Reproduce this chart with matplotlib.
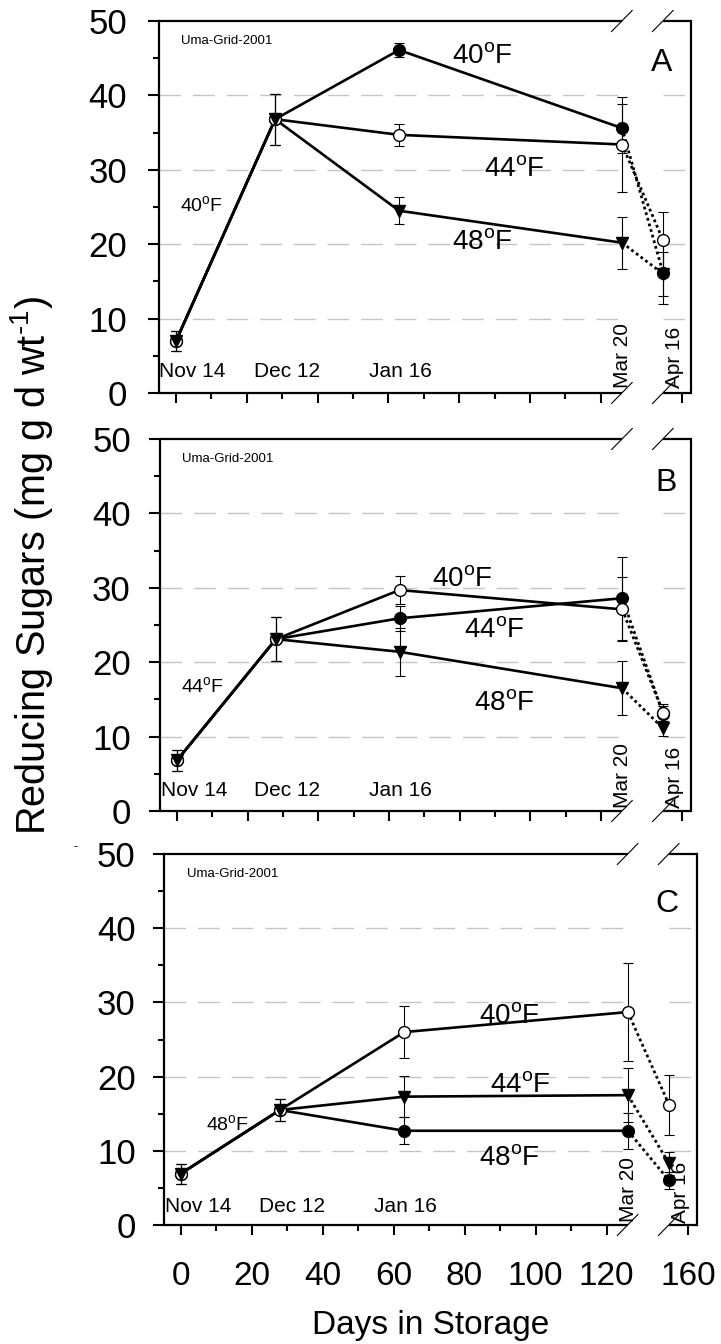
import numpy as np
import matplotlib
matplotlib.use("Agg")
import matplotlib.pyplot as plt
from matplotlib.scale import FuncScale

plt.rcParams['font.family'] = ['Liberation Sans', 'DejaVu Sans']
plt.rcParams['mathtext.fontset'] = 'custom'
plt.rcParams['mathtext.rm'] = 'Liberation Sans'
plt.rcParams['mathtext.it'] = 'Liberation Sans:italic'
plt.rcParams['mathtext.bf'] = 'Liberation Sans:bold'

# ---------------- data ----------------
days = [0, 28, 63, 126, 153]
date_labels = ["Nov 14", "Dec 12", "Jan 16", "Mar 20", "Apr 16"]

A_filled = [7.0, 36.8, 46.1, 35.6, 16.1]
A_filled_err = [1.3, 3.4, 1.0, 3.3, 4.1]
A_open = [7.0, 36.8, 34.7, 33.4, 20.5]
A_open_err = [1.3, 3.4, 1.5, 6.4, 3.8]
A_tri = [7.0, 36.8, 24.5, 20.2, 16.0]
A_tri_err = [1.3, 3.4, 1.8, 3.5, 2.9]

B_filled = [6.8, 23.1, 25.9, 28.6, 13.1]
B_filled_err = [1.4, 3.0, 1.7, 5.6, 1.0]
B_open = [6.8, 23.1, 29.7, 27.1, 13.2]
B_open_err = [1.4, 3.0, 1.9, 4.3, 1.2]
B_tri = [6.8, 23.1, 21.4, 16.5, 11.1]
B_tri_err = [1.4, 3.0, 3.2, 3.6, 1.0]

C_filled = [6.9, 15.5, 12.7, 12.7, 6.0]
C_filled_err = [1.35, 1.45, 1.8, 2.4, 1.1]
C_open = [6.9, 15.5, 26.0, 28.7, 16.2]
C_open_err = [1.35, 1.45, 3.5, 6.6, 4.05]
C_tri = [6.9, 15.5, 17.3, 17.5, 8.3]
C_tri_err = [1.35, 1.45, 2.75, 3.6, 1.5]

x_major = [0, 20, 40, 60, 80, 100, 120, 160]
x_minor = [10, 30, 50, 70, 90, 110]
y_major = [0, 10, 20, 30, 40, 50]
y_minor = [5, 15, 25, 35, 45]
grid_vals = [10, 20, 30, 40]

panel_letters = ["A", "B", "C"]
init_temps = ["40$^{\\rm o}$F", "44$^{\\rm o}$F", "48$^{\\rm o}$F"]
temp_labels = ["40$^{\\rm o}$F", "44$^{\\rm o}$F", "48$^{\\rm o}$F"]

# ---------------- broken x scale ----------------
B1, B2, G, K = 126.0, 153.0, 11.6, 0.757


def fwd(x):
    x = np.asarray(x, dtype=float)
    return np.where(x <= B1, x,
                    np.where(x >= B2, B1 + G + (x - B2) * K,
                             B1 + (x - B1) * G / (B2 - B1)))


def inv(u):
    u = np.asarray(u, dtype=float)
    return np.where(u <= B1, u,
                    np.where(u >= B1 + G, B2 + (u - B1 - G) / K,
                             B1 + (u - B1) * (B2 - B1) / G))


W, H = 721, 1344
fig = plt.figure(figsize=(W / 100, H / 100), dpi=100)


def ftext(x, y, s, **kw):
    fig.text(x / W, 1 - y / H, s, **kw)


rects = [(159, 21, 532, 372), (160, 439, 531, 372), (163.5, 854, 533.5, 371)]
ypads = [15, 13, 12]
series_sets = [
    [(A_filled, A_filled_err), (A_open, A_open_err), (A_tri, A_tri_err)],
    [(B_filled, B_filled_err), (B_open, B_open_err), (B_tri, B_tri_err)],
    [(C_filled, C_filled_err), (C_open, C_open_err), (C_tri, C_tri_err)],
]
styles = [dict(marker='o', mfc='black'), dict(marker='o', mfc='white'),
          dict(marker='v', mfc='black')]

bl, br = 0.870, 0.947  # break positions (axes fraction)

axes = []
for i, (l, t, w, h) in enumerate(rects):
    ax = fig.add_axes([l / W, 1 - (t + h) / H, w / W, h / H])
    axes.append(ax)
    ax.set_xscale(FuncScale(ax, (fwd, inv)))
    ax.set_xlim(-4.8, 163.4)
    ax.set_ylim(0, 50)
    ax.set_xticks(x_major)
    ax.set_xticks(x_minor, minor=True)
    ax.set_yticks(y_major)
    ax.set_yticks(y_minor, minor=True)
    ax.set_xticklabels([str(v) for v in x_major])
    ax.tick_params(axis='y', which='major', direction='out', length=8, width=1.5,
                   labelsize=25, pad=ypads[i])
    ax.tick_params(axis='y', which='minor', direction='out', length=4.3, width=1.5)
    ax.tick_params(axis='x', which='major', direction='out', length=7.2, width=1.5,
                   labelsize=24, pad=19, labelbottom=(i == 2))
    ax.tick_params(axis='x', which='minor', direction='out', length=4.3, width=1.5)
    for s in ['top', 'bottom']:
        ax.spines[s].set_visible(False)
    for s in ['left', 'right']:
        ax.spines[s].set_linewidth(1.6)

    # grid lines with break gap
    for g in grid_vals:
        ax.axhline(g, 0, bl - 0.008, color='#c4c4c4', lw=1, dashes=(15.6, 8.6), zorder=1)
        ax.axhline(g, br, 1, color='#c4c4c4', lw=1, dashes=(15.6, 8.6), zorder=1)

    # broken top / bottom spines
    for yb in (0, 1):
        ax.plot([0, bl], [yb, yb], transform=ax.transAxes, color='black', lw=1.6,
                clip_on=False, solid_capstyle='butt', zorder=5)
        ax.plot([br, 1], [yb, yb], transform=ax.transAxes, color='black', lw=1.6,
                clip_on=False, solid_capstyle='butt', zorder=5)
        dx, dy = 10.3 / w, 10.5 / h
        for xb in (bl, br):
            ax.plot([xb - dx, xb + dx], [yb - dy, yb + dy], transform=ax.transAxes,
                    color='black', lw=0.8, clip_on=False, zorder=5)

    for (vals, err), st in zip(series_sets[i], styles):
        ax.errorbar(days, vals, yerr=err, fmt='none', ecolor='black', elinewidth=0.8,
                    capsize=3.5, capthick=0.8, zorder=2)
        ax.plot(days[:4], vals[:4], '-', color='black', lw=1.9, zorder=3)
        ax.plot(days[3:], vals[3:], linestyle=(0, (1, 1.1)), color='black', lw=2,
                zorder=3)
        ax.plot(days, vals, linestyle='none', marker=st['marker'], ms=8.5,
                mfc=st['mfc'], mec='black', mew=1, zorder=4)

# ---------------- annotations ----------------
uma_pos = [(181, 41), (182, 459), (187, 874)]
letter_pos = [(662, 63), (666, 483), (667, 904)]
init_pos = [(202, 205), (203, 686), (228, 1124)]
temp_pos = [
    [(482, 56), (514, 169), (482, 242)],
    [(462, 579), (494, 630), (504, 703)],
    [(509, 1016), (520, 1085), (509, 1158)],
]
date_pos = [
    [(192, 371), (287, 371), (400, 371), (623, 356), (674, 357)],
    [(194, 791), (287, 791), (400, 791), (623, 775), (674, 777)],
    [(198, 1206), (292, 1206), (405, 1206), (629, 1190), (680, 1192)],
]

for i in range(3):
    ftext(*uma_pos[i], "Uma-Grid-2001", fontsize=9.5, ha='left', va='center')
    ftext(*letter_pos[i], panel_letters[i], fontsize=23, ha='center', va='center')
    ftext(*init_pos[i], init_temps[i], fontsize=14, ha='center', va='center')
    for (x, y), s in zip(temp_pos[i], temp_labels):
        ftext(x, y, s, fontsize=20, ha='center', va='center')
    for j, ((x, y), s) in enumerate(zip(date_pos[i], date_labels)):
        rot = 90 if j >= 3 else 0
        ftext(x, y, s, fontsize=15, ha='center', va='center', rotation=rot)

ftext(32, 566, "Reducing Sugars (mg g d wt$^{\\text{-1}}$)", fontsize=28.5, rotation=90,
      ha='center', va='center')
ftext(431, 1334, "Days in Storage", fontsize=24, ha='center', va='baseline')
ftext(75, 847, "-", fontsize=9, ha='center', va='center')

fig.savefig("out.png", dpi=100)
